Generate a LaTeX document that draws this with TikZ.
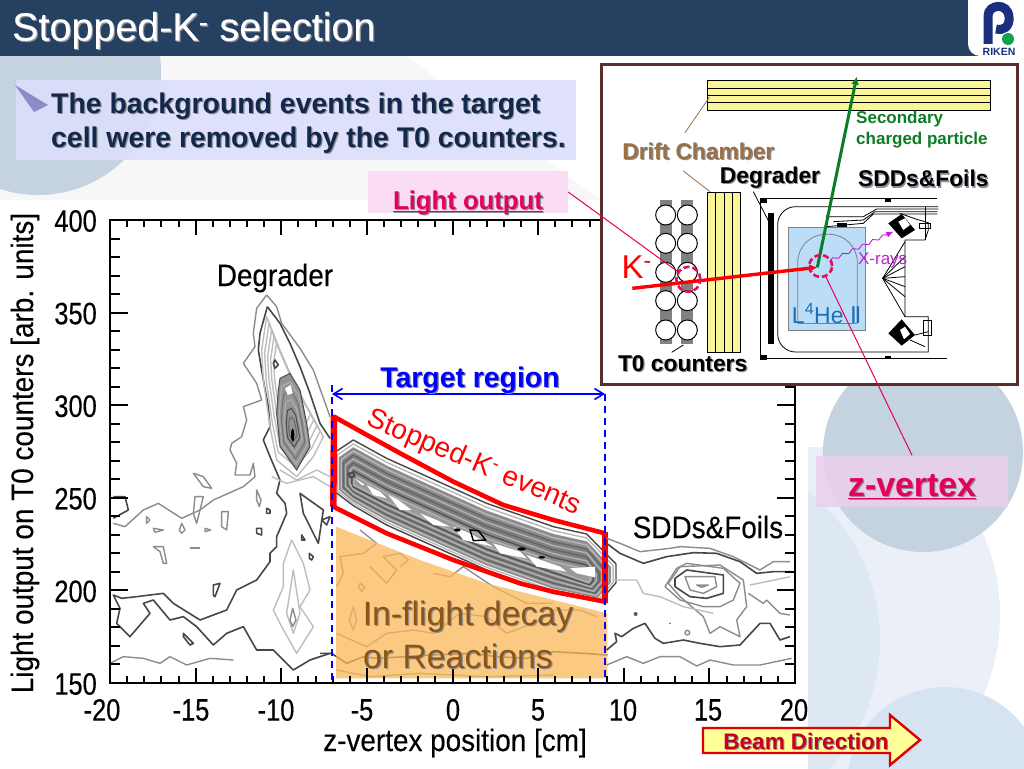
\documentclass[tikz,border=0pt]{standalone}
\usepackage{fontspec}
\setmainfont{Liberation Sans}
\newfontfamily\plotfont[FakeStretch=0.82,FakeBold=0.25]{Liberation Sans}
\newfontfamily\wordfont[FakeStretch=0.9,FakeBold=0.25]{Liberation Sans}
\newfontfamily\titlefont[FakeBold=0.3]{Liberation Sans}
\newfontfamily\numeralfont{DejaVu Sans}
\usetikzlibrary{shapes.geometric,arrows.meta,decorations.pathmorphing}
\definecolor{titlebar}{HTML}{254061}
\definecolor{shadowgray}{HTML}{8A8F98}
\definecolor{bigcircle}{HTML}{C5D2DF}
\definecolor{palecircA}{HTML}{EBF0F8}
\definecolor{palecircB}{HTML}{DEE8F3}
\definecolor{palecircC}{HTML}{D6E3F1}
\definecolor{rikenblue}{HTML}{1C2F7F}
\definecolor{rikengreen}{HTML}{12A150}
\definecolor{bulletblue}{HTML}{8A8CC8}
\definecolor{noteblue}{HTML}{DCDFFA}
\definecolor{notetext}{HTML}{14284B}
\definecolor{pinkbox}{HTML}{FADCF5}
\definecolor{zbox}{HTML}{EAD0EE}
\definecolor{crimson}{HTML}{E6005A}
\definecolor{dashpink}{HTML}{E0105A}
\definecolor{orangefill}{HTML}{FBB85A}
\definecolor{brownlabel}{HTML}{8C5518}
\definecolor{arrowred}{HTML}{E00000}
\definecolor{arrowfill}{HTML}{FFFF99}
\definecolor{beamtext}{HTML}{C8001E}
\definecolor{panelframe}{HTML}{5A2D2D}
\definecolor{chamber}{HTML}{FBF59A}
\definecolor{chamberlabel}{HTML}{9A7044}
\definecolor{trackgreen}{HTML}{0B7D24}
\definecolor{heliumblue}{HTML}{BBDDF8}
\definecolor{heliumtext}{HTML}{1F6FB0}
\definecolor{xraypurple}{HTML}{C020D0}
\newcommand{\shtxt}[2]{\leavevmode\rlap{\hspace{1.2pt}\raisebox{-1.2pt}{\color{shadowgray}#2}}{\color{#1}#2}}
\tikzset{
    ctdark/.style={draw=black!72, line width=1.6pt, line join=round},
    ctmid/.style={draw=black!45, line width=1.4pt, line join=round},
    ctlite/.style={draw=black!26, line width=1.4pt, line join=round},
    ticklab/.style={font=\plotfont\fontsize{31}{33}\selectfont, text=black, inner sep=0pt},
    plotlab/.style={font=\wordfont\fontsize{31}{33}\selectfont, text=black, inner sep=0pt},
    smalllab/.style={font=\bfseries\fontsize{22.8}{24}\selectfont, inner sep=0pt},
    thinline/.style={draw=black, line width=.8pt},
    zoomA/.style={shift={(100,280)}, x=.33333pt, y=-.33333pt},
    zoomB/.style={shift={(320,370)}, x=.33333pt, y=-.33333pt},
    zoomC/.style={shift={(600,380)}, x=.33333pt, y=-.33333pt},
    zoomD/.style={shift={(600,60)}, x=.33333pt, y=-.33333pt}
}
\begin{document}
\begin{tikzpicture}[x=1pt, y=-1pt, >=latex]
    \useasboundingbox (0,0) rectangle (1024,768);
    \fill[white] (0,0) rectangle (1024,768);

    \fill[black!3] (0,56) -- (406,56) -- (600,200) -- (0,200) -- cycle;
    \fill[bigcircle] (38,72) circle (123);
    \begin{scope}
        \clip (808,447) rectangle (1024,768);
        \fill[palecircA] (800,615) circle (200);
        \fill[palecircB] (690,640) circle (190);
    \end{scope}
    \fill[palecircC] (945,785) circle (98);
    \fill[bigcircle] (923,452) circle (100);
    \fill[white] (0,200) rectangle (808,768);

    \fill[titlebar] (0,0) rectangle (1024,56);
    \node[font=\titlefont\fontsize{39.5}{41}\selectfont, anchor=west, inner sep=0pt] (title) at (12,31)
        {\shtxt{white}{Stopped-K\textsuperscript{-} selection}};
    \begin{scope}
        \clip (940,0) rectangle (1024,56);
        \fill[white, rounded corners=12pt] (968,-20) rectangle (1050,56);
    \end{scope}
    \draw[rikenblue, line width=9pt] (988,44) -- (988,16) .. controls (988,4) and (1008,2) .. (1009,17)
        .. controls (1010,27) and (1003,31) .. (996,29);
    \fill[rikengreen] (1008,39) circle (6);
    \node[font=\bfseries\fontsize{10.5}{11}\selectfont, text=rikenblue, inner sep=0pt] (riken) at (999,52) {RIKEN};

    \fill[noteblue, opacity=.9] (16,80) rectangle (576,160);
    \fill[bulletblue] (15,85) -- (48,105) -- (34,112) -- cycle;
    \node[font=\bfseries\fontsize{28.4}{34}\selectfont, anchor=west, align=left, inner sep=0pt] (note) at (51,124)
        {\shtxt{notetext}{The background events in the target}\\\shtxt{notetext}{cell were removed by the T0 counters.}};

    \begin{scope}[zoomA]
        \draw[ctmid] (500,45) -- (530,80) -- (545,130) -- (600,205) -- (640,270) -- (665,340) -- (690,410);
        \draw[ctmid] (500,45) -- (470,85) -- (460,160) -- (465,200) -- (430,250) -- (470,310) -- (485,360) -- (430,380) -- (440,420) -- (425,470) -- (395,490) -- (390,510) -- (410,550) -- (405,585) -- (450,585) -- (460,550) -- (465,590) -- (430,620) -- (340,660) -- (300,690) -- (245,715) -- (175,670) -- (130,690) -- (75,740) -- (40,730);
        \draw[ctdark] (502,80) -- (540,130) -- (570,190) -- (600,260) -- (630,340) -- (660,430) -- (690,475);
        \draw[ctdark] (502,80) -- (480,160) -- (475,210) -- (490,300) -- (505,380) -- (510,440) -- (490,480) -- (510,530) -- (540,600) -- (530,640) -- (555,670) -- (560,700) -- (530,770) -- (530,800) -- (510,820) -- (510,845) -- (470,900) -- (410,930) -- (380,990) -- (300,1020) -- (220,970) -- (190,940) -- (110,950) -- (65,955) -- (40,945) -- (60,985) -- (50,1030) -- (90,1070) -- (150,1000) -- (130,970) -- (160,960) -- (210,1020) -- (250,1010) -- (290,1040) -- (340,1095) -- (380,1060) -- (430,1040) -- (470,1110) -- (520,1110) -- (580,1170) -- (630,1140) -- (690,1120);
        \draw[ctdark] (40,650) -- (75,650) -- (85,690) -- (40,715);
        \draw[ctdark] (600,640) -- (670,690) -- (655,790) -- (610,700) -- cycle;
        \draw[ctdark] (665,720) -- (690,710) -- (680,735) -- cycle;
        \draw[ctdark] (500,685) -- (510,690) -- (510,700) -- (500,700) -- cycle;
        \draw[ctdark] (470,745) -- (485,745) -- (485,765) -- (470,760) -- cycle;
        \draw[ctdark] (605,765) -- (615,780) -- (605,780) -- cycle;
        \draw[ctdark] (628,820) -- (640,830) -- (635,840) -- (628,835) -- cycle;
        \draw[ctdark] (340,915) -- (360,910) -- (345,950) -- (340,945) -- cycle;
        \draw[ctdark] (250,1060) -- (280,1090) -- (270,1095) -- (250,1070) -- cycle;
        \draw[ctmid] (280,580) -- (310,590) -- (335,625) -- (310,620) -- cycle;
        \draw[ctmid] (470,630) -- (483,660) -- (478,680) -- (470,660) -- cycle;
        \draw[ctmid] (365,695) -- (385,695) -- (380,750) -- (365,740) -- cycle;
        \draw[ctmid] (285,650) -- (310,650) -- (290,730) -- (280,700) -- cycle;
        \draw[ctmid] (140,710) -- (150,720) -- (140,730) -- cycle;
        \draw[ctmid] (160,745) -- (190,750) -- (165,757) -- cycle;
        \draw[ctmid] (245,730) -- (255,750) -- (245,760) -- (238,750) -- cycle;
        \draw[ctmid] (315,745) -- (332,750) -- (315,755) -- cycle;
        \draw[ctmid] (160,800) -- (190,800) -- (200,850) -- (190,850) -- (180,815) -- cycle;
        \draw[ctmid, line width=1.8pt] (270,803) -- (300,803);
        \draw[ctmid] (30,1150) -- (70,1130) -- (130,1135) -- (180,1150) -- (210,1130) -- (260,1155) -- (330,1135) -- (400,1140);
        \draw[ctlite] (575,780) -- (610,850) -- (630,930) -- (600,980) -- (640,1040) -- (590,1120) -- (545,1040) -- (520,990) -- (550,920) -- (550,850) -- cycle;
        \draw[ctlite] (580,870) -- (600,1000) -- (580,1060) -- (560,1000) -- cycle;
        \draw[ctmid] (578,985) -- (588,1020) -- (578,1040) -- (570,1020) -- cycle;
        \draw[ctlite] (515,590) -- (560,610) -- (640,590) -- (690,620);
        \draw[ctlite] (540,570) -- (590,600) -- (650,570) -- (690,590);
        \foreach \s in {1,.9,.8,.7,.6} {
            \draw[ctlite, scale around={\s:(575,300)}] (500,110) -- (530,190) -- (570,280) -- (620,380) -- (670,470) -- (640,530) -- (590,590) -- (530,540) -- (510,440) -- (490,300) -- (485,210) -- cycle;
        }
        \draw[ctdark] (525,240) -- (535,255) -- (525,265) -- (520,250) -- cycle;
        \fill[black!42] (540,295) -- (570,280) -- (600,330) -- (620,430) -- (630,500) -- (590,570) -- (540,500) -- (530,400) -- (535,330) -- cycle;
        \foreach \s/\c in {1/black!70,.85/black!30,.7/black!55,.55/black!30,.4/black!70,.25/black!60} {
            \draw[draw=\c, line width=1pt, scale around={\s:(578,455)}] (540,295) -- (570,280) -- (600,330) -- (620,430) -- (630,500) -- (590,570) -- (540,500) -- (530,400) -- (535,330) -- cycle;
        }
        \fill[white] (555,325) -- (572,315) -- (578,340) -- (563,345) -- cycle;
        \fill[black] (578,465) ellipse (5 and 20);
    \end{scope}

    \begin{scope}[zoomB]
        \draw[ctmid] (120,480) -- (170,520) -- (130,550) -- (60,560) -- (70,610) -- (50,650);
        \draw[ctmid] (150,590) -- (200,640) -- (230,600) -- (190,560) -- (240,550) -- (265,570) -- (240,590);
        \draw[ctmid] (120,640) -- (135,650) -- (125,665) -- (115,650) -- cycle;
        \draw[ctmid] (100,710) -- (110,750) -- (100,780) -- (88,750) -- cycle;
        \draw[ctmid] (340,610) -- (390,620) -- (430,590) -- (520,650) -- (620,700) -- (700,700);
        \draw[ctmid] (50,790) -- (140,830) -- (200,790) -- (280,780) -- (340,790) -- (420,730) -- (500,740) -- (560,790) -- (640,760) -- (700,720) -- (780,720) -- (830,740);
        \draw[ctdark] (0,850) -- (35,850) -- (80,880) -- (130,860) -- (170,865) -- (260,860) -- (330,855) -- (460,850) -- (530,860) -- (620,865) -- (700,845) -- (790,850) -- (862,855);
        \draw[ctmid] (50,900) -- (150,920) -- (300,910) -- (500,920) -- (700,915);
        \fill[orangefill, opacity=.75] (48,470) -- (300,570) -- (500,640) -- (862,730) -- (862,925) -- (48,925) -- cycle;

        \foreach \d/\c/\f in {80/black!72/white,72/black!28/white,64/black!45/black!45,58/black!28/black!45,50/black!60/black!50,42/black!30/black!50,34/black!60/black!50,26/black!30/black!48,18/black!68/black!45,10/black!30/black!40} {
            \draw[draw=\c, fill=\f, line width=1.4pt, line join=round] ({110-.8*\d},{330-1.05*\d}) -- (100,{330-1.5*\d}) -- (200,{385-1.5*\d}) -- (300,{430-1.5*\d}) -- (400,{475-1.5*\d}) -- (500,{520-1.5*\d}) -- (600,{555-1.5*\d}) -- (700,{590-1.5*\d}) -- (800,{612-1.5*\d}) -- ({800+1.1*\d},{630-.6*\d}) -- ({800+1.1*\d},{630+.1*\d}) -- ({800+.5*\d},{630+.8*\d}) -- (700,{590+\d}) -- (600,{555+\d}) -- (500,{520+\d}) -- (400,{475+\d}) -- (300,{430+\d}) -- (200,{385+\d}) -- (100,{335+.9*\d}) -- ({110-.8*\d},{330+.45*\d}) -- cycle;
        }
        \fill[white] (105,325) -- (135,345) -- (125,345) -- cycle;
        \fill[white] (140,345) -- (180,365) -- (200,385) -- (160,375) -- cycle;
        \fill[white] (205,375) -- (235,390) -- (275,420) -- (240,420) -- cycle;
        \fill[white] (300,430) -- (350,450) -- (390,470) -- (340,465) -- cycle;
        \fill[white] (400,470) -- (450,490) -- (520,530) -- (430,510) -- cycle;
        \fill[white] (520,520) -- (600,545) -- (620,565) -- (540,550) -- cycle;
        \fill[white] (620,555) -- (720,590) -- (740,605) -- (650,590) -- cycle;
        \fill[white] (750,595) -- (825,590) -- (825,622) -- (770,610) -- cycle;
        \draw[ctdark, fill=black!50] (85,310) -- (100,308) -- (105,320) -- (90,322) -- cycle;
        \fill[black] (412,480) ellipse (10 and 5);
        \draw[draw=black, line width=1.4pt] (450,480) -- (475,482) -- (497,510) -- (460,512) -- cycle;
        \fill[black] (605,537) ellipse (13 and 5);
        \fill[black] (665,562) ellipse (10 and 4);

        \draw[red, line width=4.6pt, line join=round] (42,140) -- (150,200) -- (250,255) -- (400,335) -- (550,405) -- (700,450) -- (855,490) -- (855,695) -- (700,665) -- (600,640) -- (400,570) -- (200,490) -- (40,410) -- cycle;
        \draw[red, line width=6.5pt] (42,137) -- (40,410);
        \draw[red, line width=6.5pt] (855,485) -- (855,698);
    \end{scope}

    \begin{scope}[zoomC]
        \draw[ctdark] (20,490) -- (60,520) -- (130,550) -- (200,530) -- (280,518) -- (350,520) -- (420,545) -- (470,580) -- (520,575) -- (575,575);
        \draw[ctmid] (20,475) -- (60,490) -- (120,515) -- (210,505) -- (240,500) -- (330,505) -- (400,530) -- (450,555) -- (480,570) -- (520,545) -- (570,545);
        \draw[ctdark] (225,595) -- (260,570) -- (370,585) -- (370,640) -- (320,655) -- (270,650) -- (225,620) -- cycle;
        \draw[ctmid] (255,590) -- (345,590) -- (350,620) -- (310,640) -- (270,630) -- cycle;
        \draw[ctmid, fill=black!35] (290,615) -- (325,615) -- (305,622) -- cycle;
        \draw[ctmid] (195,620) -- (230,565) -- (260,550) -- (370,565) -- (420,610) -- (400,660) -- (360,680) -- (310,680) -- (240,660) -- cycle;
        \draw[ctmid] (205,610) -- (240,560) -- (360,555) -- (430,600) -- (440,680) -- (410,720) -- (420,770) -- (360,740) -- (330,760) -- (310,710) -- (240,650) -- cycle;
        \draw[ctdark] (20,810) -- (50,785) -- (45,760) -- (65,770) -- (100,745) -- (135,730) -- (165,775) -- (190,790) -- (250,780) -- (300,790) -- (360,800) -- (420,795) -- (480,730) -- (510,730) -- (540,780) -- (570,770);
        \draw[ctmid] (20,855) -- (80,830) -- (130,850) -- (180,830) -- (240,830) -- (290,858) -- (330,840) -- (400,855) -- (480,855) -- (575,835);
        \draw[ctlite] (40,600) -- (110,600) -- (130,640) -- (180,650) -- (250,680) -- (340,700);
        \draw[ctlite] (450,615) -- (500,605) -- (570,590);
        \draw[ctmid] (445,640) -- (490,670) -- (500,660) -- (540,700) -- (570,705);
        \fill[black!65] (107,702) circle (6);
        \fill[black!55] (210,730) circle (3);
        \draw[ctmid] (262,758) circle (7);
    \end{scope}

    \draw[black, line width=2.4pt] (110,220) rectangle (795,683);
    \foreach \i in {1,...,39} {
        \draw[black, line width=2pt] ({110+17.125*\i},683) -- ({110+17.125*\i},676);
        \draw[black, line width=2pt] ({110+17.125*\i},220) -- ({110+17.125*\i},227);
    }
    \foreach \i in {1,...,7} {
        \draw[black, line width=2pt] ({110+85.625*\i},683) -- ({110+85.625*\i},668);
        \draw[black, line width=2pt] ({110+85.625*\i},220) -- ({110+85.625*\i},235);
    }
    \foreach \i in {1,...,24} {
        \draw[black, line width=2pt] (110,{220+18.52*\i}) -- (120,{220+18.52*\i});
        \draw[black, line width=2pt] (795,{220+18.52*\i}) -- (785,{220+18.52*\i});
    }
    \foreach \i in {1,...,4} {
        \draw[black, line width=2pt] (110,{220+92.6*\i}) -- (128,{220+92.6*\i});
        \draw[black, line width=2pt] (795,{220+92.6*\i}) -- (777,{220+92.6*\i});
    }

    \foreach \v [count=\n from 0] in {400,350,300,250,200,150} {
        \node[ticklab, anchor=east] (ytick\n) at (97,{221+92.6*\n}) {\v};
    }
    \foreach \v/\xv in {-20/102,-15/191,-10/276,-5/362,0/453,5/538,10/623,15/708,20/794} {
        \node[ticklab] (xtick\xv) at (\xv,710) {\v};
    }
    \node[plotlab, rotate=90] (ylabel) at (25,453) {Light output on T0 counters [arb. units]};
    \node[plotlab] (xlabel) at (455,743) {z-vertex position [cm]};
    \node[plotlab] (degraderpeak) at (275,278) {Degrader};
    \node[plotlab] (sddpeak) at (708,527) {SDDs\&Foils};

    \coordinate (targetL) at (332,394);
    \coordinate (targetR) at (605,394);
    \coordinate (axisL) at (332,683);
    \coordinate (axisR) at (605,683);
    \coordinate (dashtopL) at (332,385);
    \draw[blue, line width=2pt, dash pattern=on 7pt off 5pt] (dashtopL) -- (axisL);
    \draw[blue, line width=2pt, dash pattern=on 7pt off 5pt] (targetR) -- (axisR);
    \draw[blue, line width=1.6pt, {Straight Barb[length=9pt,width=11pt]}-{Straight Barb[length=9pt,width=11pt]}] (targetL) -- (targetR);
    \node[font=\bfseries\fontsize{28.4}{30}\selectfont, inner sep=0pt] (targetlab) at (470,381) {\shtxt{blue}{Target region}};
    \node[font=\fontsize{28}{30}\selectfont, text=red, rotate=-23, inner sep=0pt] (stoppedlab) at (474,463) {Stopped-K\textsuperscript{-} events};
    \node[font=\fontsize{33.8}{36}\selectfont, inner sep=0pt] (flightlab) at (468,617) {\shtxt{brownlabel}{In-flight decay}};
    \node[font=\fontsize{33.8}{36}\selectfont, inner sep=0pt] (reactlab) at (458,657) {\shtxt{brownlabel}{or Reactions}};

    \draw[arrowred, fill=arrowfill, line width=2.4pt] (703,728) -- (890,728) -- (890,715) -- (920,740) -- (890,765) -- (890,753) -- (703,753) -- cycle;
    \node[font=\bfseries\fontsize{22.5}{24}\selectfont, inner sep=0pt] (beamlab) at (806,742) {\shtxt{beamtext}{Beam Direction}};

    \fill[pinkbox] (368,171) rectangle (568,213);
    \node[minimum width=200pt, minimum height=42pt, inner sep=0pt] (lightoutput) at (468,192) {};
    \node[font=\bfseries\fontsize{25.7}{27}\selectfont, inner sep=0pt] (lightlab) at (468,211) {\shtxt{crimson}{\underline{\smash{Light output}}}};

    \fill[zbox, opacity=.85] (816,456) rectangle (1008,507);
    \node[minimum width=192pt, minimum height=51pt, inner sep=0pt] (zvertexbox) at (912,481) {};
    \node[font=\bfseries\fontsize{33.8}{36}\selectfont, inner sep=0pt] (zvertexlab) at (912,487) {\shtxt{crimson}{\underline{z-vertex}}};

    \draw[panelframe, fill=white, line width=3pt] (601,64) rectangle (1017,384);

    \begin{scope}[zoomD]
        \draw[thinline, fill=chamber] (322,62) rectangle (1170,150);
        \foreach \y in {84,106,128} {
            \draw[thinline] (322,\y) -- (1170,\y);
        }
        \coordinate (chamberA) at (328,112);
        \coordinate (chamberB) at (255,218);
        \coordinate (chamberC) at (250,333);
        \coordinate (chamberD) at (330,395);
        \draw[chamberlabel, line width=.8pt] (chamberA) -- (chamberB);
        \draw[chamberlabel, line width=.8pt] (chamberC) -- (chamberD);
        \draw[thinline, fill=chamber] (322,398) rectangle (420,876);
        \foreach \x in {347,372,397} {
            \draw[thinline] (\x,398) -- (\x,876);
        }

        \foreach \x in {197,262} {
            \fill[black!50] ({\x-18},420) rectangle ({\x+18},852);
            \foreach \y in {465,550,637,722,810} {
                \draw[black, fill=white, line width=1pt] (\x,\y) circle (30);
            }
        }

        \draw[thinline] (480,415) -- (1010,415);
        \draw[thinline] (480,895) -- (1042,895);
        \draw[thinline] (480,415) -- (480,895);
        \fill[black] (480,415) rectangle (500,428);
        \fill[black] (480,885) rectangle (500,900);
        \fill[black] (855,418) rectangle (872,426);
        \fill[black] (855,888) rectangle (872,896);
        \fill[black] (505,460) rectangle (523,852);
        \draw[thinline, rounded corners=18pt] (1015,440) -- (533,440) -- (533,876) -- (985,876);
        \draw[black!50, fill=heliumblue, line width=.8pt] (565,503) rectangle (797,810);
        \draw[black!50, line width=.8pt, rounded corners=28pt] (593,790) -- (593,523) -- (772,523) -- (772,790);
        \draw[black!50, line width=.8pt] (593,790) -- (772,790);

        \draw[thinline] (680,470) -- (790,470) -- (830,447) -- (1015,447);
        \draw[thinline] (680,465) -- (680,500) -- (790,490) -- (820,462) -- (1012,462);
        \draw[thinline] (700,485) -- (790,480) -- (825,455) -- (1012,455);
        \fill[black] (710,490) rectangle (740,500);
        \draw[thinline] (900,460) -- (950,478) -- (985,488) -- (985,510) -- (975,540) -- (915,540) -- (915,770) -- (985,770) -- (985,876);
        \draw[thinline] (975,440) -- (975,540);
        \draw[thinline] (958,490) -- (990,490) -- (990,505) -- (958,505) -- cycle;
        \draw[thinline] (970,780) rectangle (995,825);
        \fill[black] (865,490) -- (905,462) -- (945,510) -- (905,535) -- cycle;
        \fill[white] (895,485) -- (915,475) -- (930,495) -- (910,510) -- cycle;
        \fill[black] (865,820) -- (905,778) -- (945,825) -- (905,857) -- cycle;
        \fill[white] (900,810) -- (915,800) -- (930,822) -- (912,838) -- cycle;
        \draw[thinline] (945,825) -- (985,815);
        \draw[thinline] (930,840) -- (975,860);
        \foreach \yy in {545,590,620,650,680,710,770} {
            \draw[thinline] (848,655) -- (915,\yy);
        }

        \coordinate (kbeam) at (97,685);
        \coordinate (stopvertex) at (652,622);
        \coordinate (tracktop) at (770,50);
        \coordinate (xraystart) at (690,602);
        \coordinate (xrayend) at (880,515);
        \coordinate (degleadA) at (460,395);
        \coordinate (degleadB) at (505,482);
        \coordinate (t0leadA) at (215,877);
        \coordinate (t0leadB) at (250,855);
        \draw[thinline] (degleadA) -- (degleadB);
        \draw[thinline] (t0leadA) -- (t0leadB);
        \draw[xraypurple, line width=.9pt, decorate, decoration={snake, amplitude=1.5pt, segment length=11pt, post length=7pt}, -{Latex[length=7pt,width=6pt]}] (xraystart) -- (xrayend);
        \draw[trackgreen, line width=3pt, -{Latex[length=8pt,width=8pt]}] (stopvertex) -- (tracktop);
        \draw[red, line width=3.4pt, -{Latex[length=8pt,width=8pt]}] (kbeam) -- (stopvertex);
        \node[ellipse, draw=dashpink, dash pattern=on 6pt off 3pt, line width=2.6pt, minimum width=24pt, minimum height=25pt, inner sep=0pt] (t0circle) at (265,658) {};
        \node[ellipse, draw=dashpink, dash pattern=on 6pt off 3pt, line width=2.6pt, minimum width=23pt, minimum height=22pt, inner sep=0pt] (stopcircle) at (662,618) {};
    \end{scope}

    \draw[crimson, line width=1pt] (lightoutput.east) -- (t0circle);
    \draw[crimson, line width=1pt] (zvertexbox.north) -- (stopcircle);

    \begin{scope}[zoomD]
        \node[smalllab] (driftlab) at (295,275) {\shtxt{chamberlabel}{Drift Chamber}};
        \node[smalllab] (deglab) at (510,355) {\shtxt{black}{Degrader}};
        \node[smalllab] (sddlab) at (970,358) {\shtxt{black}{SDDs\&Foils}};
        \node[smalllab] (t0lab) at (248,912) {\shtxt{black}{T0 counters}};
        \node[font=\bfseries\fontsize{17}{21}\selectfont, text=trackgreen, align=left, anchor=west, inner sep=0pt] (seclab) at (768,210) {Secondary\\charged particle};
        \node[font=\fontsize{33}{35}\selectfont, text=red, inner sep=0pt] (klab) at (110,620) {K\textsuperscript{-}};
        \node[font=\fontsize{17}{18}\selectfont, text=xraypurple, inner sep=0pt] (xraylab) at (848,600) {X-rays};
        \node[font=\fontsize{23}{25}\selectfont, text=heliumtext, inner sep=0pt] (helab) at (680,760) {L\textsuperscript{4}He {\numeralfont Ⅱ}};
    \end{scope}
\end{tikzpicture}
\end{document}
